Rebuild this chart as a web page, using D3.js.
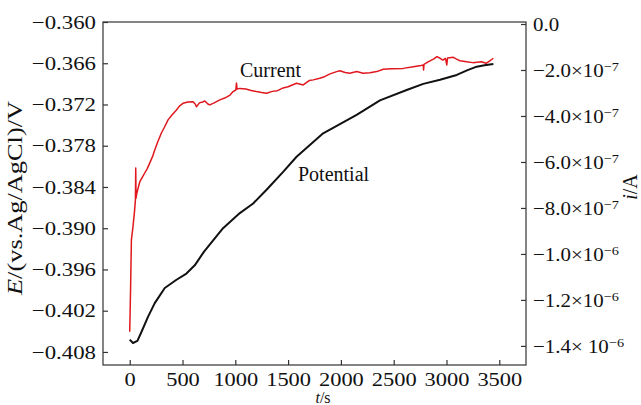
<!DOCTYPE html>
<html>
<head>
<meta charset="utf-8">
<title>Potential and current vs time</title>
<script src="https://d3js.org/d3.v7.min.js"></script>
<style>
body { margin: 0; background: #fff; }
text { font-family: "Liberation Serif", "Times New Roman", serif; fill: #111; }
</style>
</head>
<body>
<script>

// potential (black curve): time in s, E in V vs Ag/AgCl
var potT = [0, 31, 73, 111, 173, 237, 332, 443, 537, 616, 704, 884, 1043, 1169, 1296,
            1453, 1580, 1832, 2149, 2370, 2623, 2780, 2939, 3097, 3200, 3286, 3360, 3444];
var potE = [-0.4062, -0.4067, -0.4064, -0.4051, -0.4029, -0.4009, -0.3987, -0.3975, -0.3966,
            -0.3954, -0.3934, -0.3900, -0.3878, -0.3864, -0.3844, -0.3818, -0.3796, -0.3762,
            -0.3735, -0.3714, -0.3699, -0.3690, -0.3684, -0.3677, -0.3670, -0.3665, -0.3663, -0.3661];

// current (red curve): time in s, i in A
var curT = [0, 8, 16, 31, 45, 54, 57, 60, 66, 80, 95, 115, 142, 165, 190, 215, 237, 265, 300,
            330, 363, 400, 443, 470, 505, 550, 600, 620, 632, 660, 690, 711, 740, 758, 800, 853,
            900, 950, 979, 1005, 1011, 1017, 1043, 1100, 1150, 1200, 1250, 1296, 1350, 1400,
            1453, 1500, 1550, 1580, 1643, 1700, 1738, 1800, 1850, 1897, 1960, 1990, 2040, 2085,
            2150, 2210, 2275, 2340, 2401, 2480, 2590, 2685, 2760, 2780, 2783, 2787, 2830, 2880,
            2910, 2940, 2965, 2990, 3003, 3010, 3065, 3100, 3128, 3190, 3250, 3330, 3375, 3410, 3444];
var curI = [-13.38e-7, -11.57e-7, -9.39e-7, -8.81e-7, -8.17e-7, -7.65e-7, -6.26e-7, -7.57e-7,
            -7.39e-7, -7.13e-7, -6.87e-7, -6.70e-7, -6.48e-7, -6.30e-7, -6.04e-7, -5.78e-7,
            -5.48e-7, -5.13e-7, -4.74e-7, -4.48e-7, -4.17e-7, -3.96e-7, -3.74e-7, -3.57e-7,
            -3.45e-7, -3.39e-7, -3.38e-7, -3.48e-7, -3.60e-7, -3.43e-7, -3.39e-7, -3.35e-7,
            -3.48e-7, -3.52e-7, -3.43e-7, -3.30e-7, -3.22e-7, -3.09e-7, -2.94e-7, -2.87e-7,
            -2.57e-7, -2.83e-7, -2.80e-7, -2.83e-7, -2.89e-7, -2.94e-7, -2.98e-7, -3.01e-7,
            -2.93e-7, -2.90e-7, -2.78e-7, -2.73e-7, -2.63e-7, -2.58e-7, -2.65e-7, -2.46e-7,
            -2.43e-7, -2.36e-7, -2.28e-7, -2.17e-7, -2.07e-7, -2.03e-7, -2.11e-7, -2.14e-7,
            -2.07e-7, -2.14e-7, -2.12e-7, -2.07e-7, -1.97e-7, -1.95e-7, -1.93e-7, -1.86e-7,
            -1.80e-7, -1.78e-7, -2.00e-7, -1.76e-7, -1.64e-7, -1.52e-7, -1.42e-7, -1.49e-7,
            -1.57e-7, -1.50e-7, -1.78e-7, -1.48e-7, -1.45e-7, -1.54e-7, -1.60e-7, -1.64e-7,
            -1.68e-7, -1.64e-7, -1.71e-7, -1.60e-7, -1.49e-7];

var tTicks = [0, 500, 1000, 1500, 2000, 2500, 3000, 3500];
var eTicks = [-0.360, -0.366, -0.372, -0.378, -0.384, -0.390, -0.396, -0.402, -0.408];
var iTicks = [0, -2e-7, -4e-7, -6e-7, -8e-7, -1.0e-6, -1.2e-6, -1.4e-6];
var iTickMant = ["0.0", "\u22122.0\u00d710", "\u22124.0\u00d710", "\u22126.0\u00d710", "\u22128.0\u00d710",
                 "\u22121.0\u00d710", "\u22121.2\u00d710", "\u22121.4\u00d7 10"];
var iTickExp = ["", "\u22127", "\u22127", "\u22127", "\u22127", "\u22126", "\u22126", "\u22126"];

var margin = { top: 22, right: 115, bottom: 40, left: 103 },
    width = 641 - margin.left - margin.right,
    height = 405 - margin.top - margin.bottom;

var x = d3.scaleLinear().domain([-253, 3753]).range([0, width]);
var yE = d3.scaleLinear().domain([-0.4099, -0.360]).range([height, 0]);
var yI = d3.scaleLinear().domain([-1.483e-6, 0.0087e-6]).range([height, 0]);

var svg = d3.select("body").append("svg")
    .attr("width", 641)
    .attr("height", 405);

var g = svg.append("g")
    .attr("transform", "translate(" + margin.left + "," + margin.top + ")");

// stretch text to the wide look of the original lettering
function stretch(sel, k) {
    sel.each(function () {
        var w = this.getComputedTextLength();
        d3.select(this).attr("textLength", w * k).attr("lengthAdjust", "spacingAndGlyphs");
    });
}

var xAxis = d3.axisBottom(x).tickValues(tTicks).tickFormat(d3.format("d"))
    .tickSize(-5).tickSizeOuter(0).tickPadding(8);
var eAxis = d3.axisLeft(yE).tickValues(eTicks).tickFormat(d3.format(".3f"))
    .tickSize(-5).tickSizeOuter(0).tickPadding(7);
var iAxis = d3.axisRight(yI).tickValues(iTicks).tickFormat(function () { return ""; })
    .tickSize(-5).tickSizeOuter(0).tickPadding(7);

var gx = g.append("g").attr("transform", "translate(0," + height + ")").call(xAxis);
var ge = g.append("g").call(eAxis);
var gi = g.append("g").attr("transform", "translate(" + width + ",0)").call(iAxis);

[gx, ge, gi].forEach(function (a) {
    a.select(".domain").remove();
    a.selectAll("line").attr("stroke", "#333").attr("stroke-width", 1.2);
    a.selectAll("text").style("font-family", '"Liberation Serif", serif')
        .style("font-size", "19px").attr("fill", "#111");
});

gi.selectAll(".tick text").each(function (d, i) {
    var t = d3.select(this);
    t.append("tspan").text(iTickMant[i]);
    if (iTickExp[i]) {
        t.append("tspan").attr("dy", "-0.45em").style("font-size", "13px").text(iTickExp[i]);
    }
});

stretch(gx.selectAll(".tick text"), 1.18);
stretch(ge.selectAll(".tick text"), 1.2);
stretch(gi.selectAll(".tick text"), 1.1);

// frame
g.append("rect")
    .attr("width", width).attr("height", height)
    .attr("fill", "none").attr("stroke", "#333").attr("stroke-width", 1.2);

var potLine = d3.line().x(function (d) { return x(d[0]); }).y(function (d) { return yE(d[1]); });
var curLine = d3.line().x(function (d) { return x(d[0]); }).y(function (d) { return yI(d[1]); });

g.append("path")
    .datum(d3.zip(potT, potE))
    .attr("d", potLine)
    .attr("fill", "none").attr("stroke", "#111").attr("stroke-width", 2)
    .attr("stroke-linejoin", "round");

g.append("path")
    .datum(d3.zip(curT, curI))
    .attr("d", curLine)
    .attr("fill", "none").attr("stroke", "#e0181e").attr("stroke-width", 1.5)
    .attr("stroke-linejoin", "round");

// curve labels
svg.append("text").attr("x", 240).attr("y", 77).style("font-size", "20px").text("Current");
svg.append("text").attr("x", 298).attr("y", 181).style("font-size", "20px").text("Potential");

// axis titles
var eTitle = svg.append("text")
    .attr("transform", "translate(22,198) rotate(-90)")
    .attr("text-anchor", "middle").style("font-size", "20px");
eTitle.append("tspan").style("font-style", "italic").text("E");
eTitle.append("tspan").text("/(vs.Ag/AgCl)/V");
eTitle.attr("textLength", 194).attr("lengthAdjust", "spacingAndGlyphs");

var iTitle = svg.append("text")
    .attr("transform", "translate(637,187) rotate(-90)")
    .attr("text-anchor", "middle").style("font-size", "20px");
iTitle.append("tspan").style("font-style", "italic").text("i");
iTitle.append("tspan").text("/A");

var tTitle = svg.append("text")
    .attr("x", 323).attr("y", 403)
    .attr("text-anchor", "middle").style("font-size", "16px");
tTitle.append("tspan").style("font-style", "italic").text("t");
tTitle.append("tspan").text("/s");

</script>
</body>
</html>
